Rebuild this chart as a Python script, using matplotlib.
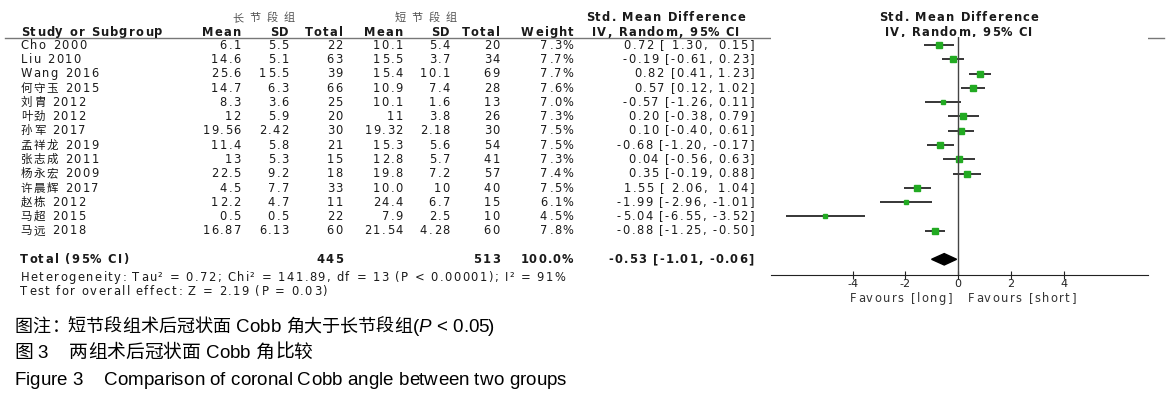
import matplotlib
matplotlib.use('Agg')
import matplotlib.pyplot as plt
from matplotlib.font_manager import FontProperties, findfont, get_font

plt.rcParams['font.family'] = ['DejaVu Sans', 'Noto Sans CJK SC']
plt.rcParams['axes.unicode_minus'] = False

# data
studies = ['Cho 2000', 'Liu 2010', 'Wang 2016', '何守玉 2015', '刘胄 2012', '叶劲 2012',
           '孙军 2017', '孟祥龙 2019', '张志成 2011', '杨永宏 2009', '许晨辉 2017',
           '赵栋 2012', '马超 2015', '马远 2018']
mean_long = ['6.1', '14.6', '25.6', '14.7', '8.3', '12', '19.56', '11.4', '13', '22.5', '4.5', '12.2', '0.5', '16.87']
sd_long = ['5.5', '5.1', '15.5', '6.3', '3.6', '5.9', '2.42', '5.8', '5.3', '9.2', '7.7', '4.7', '0.5', '6.13']
n_long = [22, 63, 39, 66, 25, 20, 30, 21, 15, 18, 33, 11, 22, 60]
mean_short = ['10.1', '15.5', '15.4', '10.9', '10.1', '11', '19.32', '15.3', '12.8', '19.8', '10.0', '24.4', '7.9', '21.54']
sd_short = ['5.4', '3.7', '10.1', '7.4', '1.6', '3.8', '2.18', '5.6', '5.7', '7.2', '10', '6.7', '2.5', '4.28']
n_short = [20, 34, 69, 28, 13, 26, 30, 54, 41, 57, 40, 15, 10, 60]
weight = [7.3, 7.7, 7.7, 7.6, 7.0, 7.3, 7.5, 7.5, 7.3, 7.4, 7.5, 6.1, 4.5, 7.8]
smd = [-0.72, -0.19, 0.82, 0.57, -0.57, 0.20, 0.10, -0.68, 0.04, 0.35, -1.55, -1.99, -5.04, -0.88]
ci_low = [-1.30, -0.61, 0.41, 0.12, -1.26, -0.38, -0.40, -1.20, -0.56, -0.19, -2.06, -2.96, -6.55, -1.25]
ci_high = [-0.15, 0.23, 1.23, 1.02, 0.11, 0.79, 0.61, -0.17, 0.63, 0.88, -1.04, -1.01, -3.52, -0.50]
ci_text = ['0.72 [ 1.30,  0.15]', '-0.19 [-0.61, 0.23]', '0.82 [0.41, 1.23]', '0.57 [0.12, 1.02]',
           '-0.57 [-1.26, 0.11]', '0.20 [-0.38, 0.79]', '0.10 [-0.40, 0.61]', '-0.68 [-1.20, -0.17]',
           '0.04 [-0.56, 0.63]', '0.35 [-0.19, 0.88]', '1.55 [ 2.06,  1.04]', '-1.99 [-2.96, -1.01]',
           '-5.04 [-6.55, -3.52]', '-0.88 [-1.25, -0.50]']
total_smd, total_low, total_high = -0.53, -1.01, -0.06
total_long, total_short = 445, 513
ticks = [-4, -2, 0, 2, 4]

W, H = 1172, 397
fig = plt.figure(figsize=(W / 100, H / 100), dpi=100)

# text layer in pixel coordinates
tx = fig.add_axes([0, 0, 1, 1])
tx.set_xlim(0, W)
tx.set_ylim(H, 0)
tx.axis('off')

# --- letter-spaced text (the export has wide tracking) ---
_fonts = {}
def _font(family, weight, style):
    key = (family, weight, style)
    if key not in _fonts:
        _fonts[key] = get_font(findfont(FontProperties(family=family, weight=weight, style=style)))
    return _fonts[key]

def spaced(x, y, segs, ha='left', track=1.45, size=8.3, color='#1a1a1a', cjk_size=None,
           latin='DejaVu Sans'):
    if isinstance(segs, str):
        segs = [(segs, 'normal', 'normal')]
    glyphs = []
    for s, wt, st in segs:
        for c in s:
            fam, sz = latin, size
            f = _font(fam, wt, st)
            if f.get_char_index(ord(c)) == 0:
                fam = 'Noto Sans CJK SC'
                sz = cjk_size or size
                f = _font(fam, wt, st)
            f.set_size(sz, 100)
            g = f.load_char(ord(c))
            glyphs.append((c, fam, sz, wt, st, g.linearHoriAdvance / 65536, g.horiBearingX / 64))
    total = sum(gl[5] for gl in glyphs) + track * (len(glyphs) - 1)
    if ha == 'right':
        x0 = x - total
    elif ha == 'center':
        x0 = x - total / 2
    else:
        x0 = x
    for c, fam, sz, wt, st, adv, bx in glyphs:
        if c != ' ':
            tx.text(x0 + bx, y, c, ha='left', va='baseline', fontsize=sz, family=fam,
                    weight=wt, style=st, color=color)
        x0 += adv + track

# forest axes, rows by index
y_top, y_bot = 37, 275
x_left, x_right = 771, 1148
fx = fig.add_axes([x_left / W, (H - y_bot) / H, (x_right - x_left) / W, (y_bot - y_top) / H])
fx.set_xlim(-7.1, 7.2)
fx.set_ylim(16.1, -0.56)
n = len(studies)

def row_y(i):
    return y_top + (i + 0.56) / (16.1 + 0.56) * (y_bot - y_top)

B = 'bold'
tb = 1.2   # tracking for bold text
hb = 35.5  # header baseline
col_x = [240, 288, 342, 402, 449, 499, 573, 753]
spaced(263, 21, '长节段组', ha='center', track=6, size=8, color='#555555')
spaced(425, 21, '短节段组', ha='center', track=6, size=8, color='#555555')
spaced(20, hb, [('Study or Subgroup', B, 'normal')], track=tb)
for x, s in zip(col_x[:7], ['Mean', 'SD', 'Total', 'Mean', 'SD', 'Total', 'Weight']):
    spaced(x, hb, [(s, B, 'normal')], ha='right', track=tb)
spaced(665, 21, [('Std. Mean Difference', B, 'normal')], ha='center', track=tb)
spaced(665, hb, [('IV, Random, 95% CI', B, 'normal')], ha='center', track=tb)
spaced(958, 21, [('Std. Mean Difference', B, 'normal')], ha='center', track=tb)
spaced(958, hb, [('IV, Random, 95% CI', B, 'normal')], ha='center', track=tb)
tx.plot([5, 1164], [37.5, 37.5], color='#777777', lw=1)

# study rows
for i in range(n):
    yb = row_y(i) + 3.7
    spaced(20, yb, studies[i])
    vals = [mean_long[i], sd_long[i], str(n_long[i]), mean_short[i], sd_short[i],
            str(n_short[i]), f'{weight[i]:.1f}%', ci_text[i]]
    for x, s in zip(col_x, vals):
        spaced(x, yb, s, ha='right')

# totals
yt = row_y(15) + 3.7
spaced(20, yt, [('Total (95% CI)', B, 'normal')], track=tb)
spaced(col_x[2], yt, [(str(total_long), B, 'normal')], ha='right', track=tb)
spaced(col_x[5], yt, [(str(total_short), B, 'normal')], ha='right', track=tb)
spaced(col_x[6], yt, [('100.0%', B, 'normal')], ha='right', track=tb)
spaced(col_x[7], yt, [(f'{total_smd:.2f} [{total_low:.2f}, {total_high:.2f}]', B, 'normal')],
       ha='right', track=tb)
spaced(20, 281, 'Heterogeneity: Tau² = 0.72; Chi² = 141.89, df = 13 (P < 0.00001); I² = 91%')
spaced(20, 295, 'Test for overall effect: Z = 2.19 (P = 0.03)')

# forest marks
rows = list(range(n))
fx.hlines(rows, ci_low, ci_high, color='black', lw=1.1)
for i in rows:
    fx.plot(smd[i], i, marker='s', color='#22aa22', ms=weight[i] * 0.5, mec='#22aa22', ls='none')
fx.fill([total_low, total_smd, total_high, total_smd], [15, 14.6, 15, 15.4], color='black')
fx.axvline(0, color='#444444', lw=1)
for s in ['top', 'right', 'left']:
    fx.spines[s].set_visible(False)
fx.spines['bottom'].set_color('#222222')
fx.set_yticks([])
fx.set_xticks(ticks)
fx.tick_params(axis='x', direction='inout', length=6, labelsize=8, pad=0, colors='#222222')
spaced(951, 302, 'Favours [long]', ha='right', color='#333333')
spaced(967, 302, 'Favours [short]', ha='left', color='#333333')

# captions
cap = dict(track=0, size=13.5, color='black', latin='Liberation Sans')
spaced(13, 332, [('图注：短节段组术后冠状面 Cobb 角大于长节段组(', 'normal', 'normal'),
                 ('P', 'normal', 'italic'), (' < 0.05)', 'normal', 'normal')], cjk_size=13, **cap)
spaced(13, 358, '图 3    两组术后冠状面 Cobb 角比较', **cap)
spaced(13, 385, 'Figure 3    Comparison of coronal Cobb angle between two groups', **cap)

fig.savefig('out.png', dpi=100)
